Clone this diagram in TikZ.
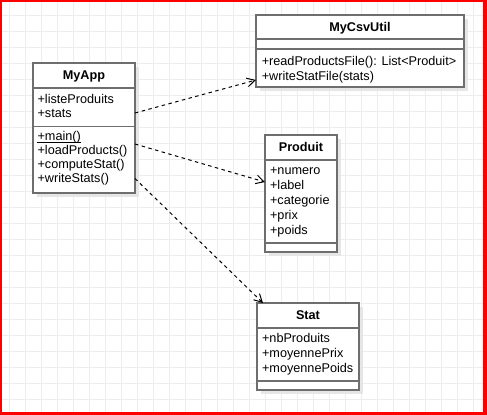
\documentclass[tikz,border=0pt]{standalone}
\usepackage{fontspec}
\setmainfont{Liberation Sans}
\usetikzlibrary{arrows.meta,calc}
\definecolor{gridc}{HTML}{EDEDED}
\definecolor{boxc}{HTML}{6E6E6E}
\definecolor{shadc}{HTML}{E6E6E6}
\definecolor{framec}{HTML}{FF0000}
\begin{document}
\begin{tikzpicture}[x=0.75pt,y=-0.75pt,
  cls/.style={draw=boxc, line width=1.1pt, fill=white, inner sep=0pt, outer sep=0pt, anchor=north west},
  divline/.style={draw=boxc, line width=1.1pt},
  shad/.style={fill=shadc},
  hdr/.style={font=\fontsize{9.5pt}{11pt}\selectfont\bfseries, inner sep=0pt, anchor=base},
  item/.style={font=\fontsize{9.5pt}{11pt}\selectfont, inner sep=0pt, anchor=base west},
  dep/.style={draw=black, line width=0.75pt, dash pattern=on 2.6pt off 2.6pt, -{Straight Barb[length=6pt,width=6.5pt,line width=0.75pt]}}
]
\useasboundingbox (0,0) rectangle (487,415);
% frame and background
\fill[framec] (0,0) rectangle (487,415);
\fill[white] (2.3,2) rectangle (483.3,412.3);
% grid
\foreach \gx in {9.5,25.5,...,481.5} {\draw[gridc, line width=0.75pt] (\gx,2) -- (\gx,412.3);}
\foreach \gy in {15.5,31.5,...,410} {\draw[gridc, line width=0.75pt] (2.3,\gy) -- (483.3,\gy);}

% shadows
\fill[shad] (37,67) rectangle (139,197);
\fill[shad] (260,19) rectangle (468,91);
\fill[shad] (269,139) rectangle (341,256);
\fill[shad] (261,307) rectangle (363,394);

% MyApp
\node[cls, minimum width=76.5pt, minimum height=97.5pt] (myapp) at (33,63) {};
\draw[divline] (myapp.west |- 0,88) -- (myapp.east |- 0,88);
\draw[divline] (myapp.west |- 0,126.5) -- (myapp.east |- 0,126.5);
\node[hdr] (myappT) at (84,79.5) {MyApp};
\node[item] (ma1) at (37.3,103.3) {+listeProduits};
\node[item] (ma2) at (37.3,117.5) {+stats};
\node[item] (mm1) at (37.3,140) {+main()};
\draw[line width=0.6pt] ([yshift=-1.6pt]mm1.base west) -- ([yshift=-1.6pt]mm1.base east);
\node[item] (mm2) at (37.3,154.3) {+loadProducts()};
\node[item] (mm3) at (37.3,168.3) {+computeStat()};
\node[item] (mm4) at (37.3,182.3) {+writeStats()};

% MyCsvUtil
\node[cls, minimum width=156pt, minimum height=54pt] (csv) at (256,15) {};
\draw[divline] (csv.west |- 0,39) -- (csv.east |- 0,39);
\draw[divline] (csv.west |- 0,49) -- (csv.east |- 0,49);
\node[hdr] (csvT) at (360,31.5) {MyCsvUtil};
\node[item] (cm1) at (261.5,65.7) {+readProductsFile(): List<Produit>};
\node[item] (cm2) at (261.5,80.3) {+writeStatFile(stats)};

% Produit
\node[cls, minimum width=54pt, minimum height=87.75pt] (prod) at (265,135) {};
\draw[divline] (prod.west |- 0,160) -- (prod.east |- 0,160);
\draw[divline] (prod.west |- 0,243) -- (prod.east |- 0,243);
\node[hdr] (prodT) at (301,151.8) {Produit};
\node[item] (pa1) at (269.8,174.3) {+numero};
\node[item] (pa2) at (269.8,189.2) {+label};
\node[item] (pa3) at (269.8,204) {+categorie};
\node[item] (pa4) at (269.8,219) {+prix};
\node[item] (pa5) at (269.8,234) {+poids};

% Stat
\node[cls, minimum width=76.5pt, minimum height=65.25pt] (stat) at (257,303) {};
\draw[divline] (stat.west |- 0,328) -- (stat.east |- 0,328);
\draw[divline] (stat.west |- 0,381) -- (stat.east |- 0,381);
\node[hdr] (statT) at (308,319.5) {Stat};
\node[item] (sa1) at (261.8,342.7) {+nbProduits};
\node[item] (sa2) at (261.8,357.3) {+moyennePrix};
\node[item] (sa3) at (261.8,372.2) {+moyennePoids};

% dependencies
\draw[dep] (myapp.east |- 0,113) -- (csv.west |- 0,80);
\draw[dep] (myapp.east |- 0,144) -- (prod.west |- 0,182);
\draw[dep] (myapp.east |- 0,178.5) -- (stat.north west -| 263,0);
\end{tikzpicture}
\end{document}
